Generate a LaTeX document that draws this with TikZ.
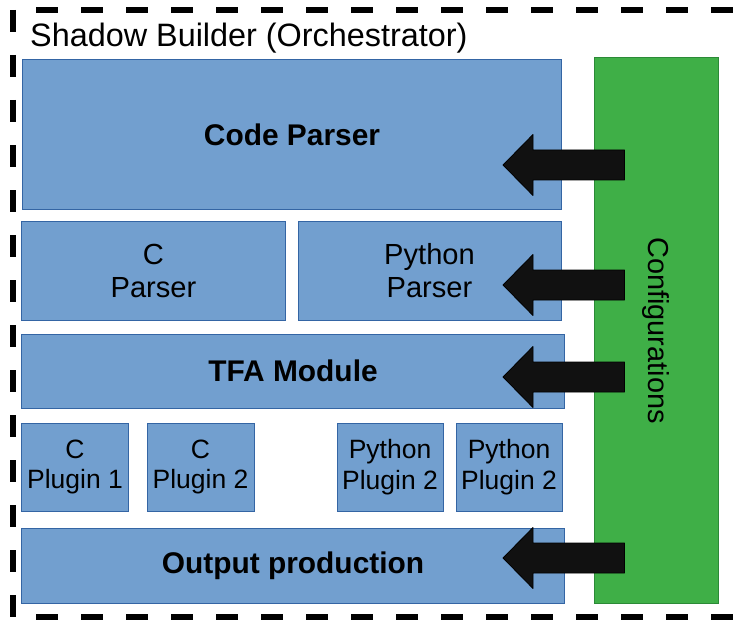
\documentclass[tikz,border=0pt]{standalone}
\usepackage{fontspec}
\setmainfont{Liberation Sans}
\usetikzlibrary{calc}

\definecolor{blockfill}{HTML}{729FCF}
\definecolor{blockborder}{HTML}{3465A4}
\definecolor{cfgfill}{HTML}{3FAF47}
\definecolor{cfgborder}{HTML}{2B8A37}
\definecolor{arrowfill}{HTML}{111111}

\begin{document}
\begin{tikzpicture}[
			x=1bp, y=-1bp,
			block/.style={
				draw=blockborder,
				fill=blockfill,
				line width=1bp,
				inner sep=0pt,
				align=center,
				font=\fontsize{29.2}{33}\selectfont,
			},
			bigblock/.style={block,
				font=\fontsize{30}{33}\selectfont\bfseries,
			},
			plugin/.style={block,
				minimum width=106bp,
				minimum height=88bp,
				font=\fontsize{26.6}{31}\selectfont,
			},
			cfgbox/.style={
				draw=cfgborder,
				fill=cfgfill,
				line width=1bp,
				inner sep=0pt,
				rotate=-90,
				font=\fontsize{29}{30}\selectfont,
			},
			cfgarrow/.style={
				fill=arrowfill,
				draw=black,
				line width=0.8bp,
				line join=round,
			},
			frame/.style={
				line width=6bp,
				dash pattern=on 22bp off 23bp,
			},
			]
			\useasboundingbox (0,0) rectangle (738,622);
			%% dashed frame, cut off on the right
			\draw[frame, dash phase=22bp] (13,10) -- (760,10);
			\draw[frame] (13,10) -- (13,617);
			\draw[frame, dash phase=22bp] (13,617) -- (760,617);
			\node[anchor=base west, inner sep=0pt, font=\fontsize{32.5}{35}\selectfont] (title) at (30,47) {Shadow Builder (Orchestrator)};
			%% Blocks
			\node[bigblock, minimum width=538bp, minimum height=149bp] (codeparser) at (292,134.5) {Code Parser};
			\node[block, minimum width=263bp, minimum height=98bp] (cparser) at (153.5,271) {C\\Parser};
			\node[block, minimum width=263bp, minimum height=98bp] (pyparser) at (429.5,271) {Python\\Parser};
			\node[bigblock, minimum width=542bp, minimum height=74bp] (tfa) at (293,371) {TFA Module};
			\node[plugin] (cplugina) at (75,467) {C\\Plugin 1};
			\node[plugin, minimum width=107bp] (cpluginb) at (200.5,467) {C\\Plugin 2};
			\node[plugin] (pyplugina) at (390,467) {Python\\Plugin 2};
			\node[plugin] (pypluginb) at (509,467) {Python\\Plugin 2};
			\node[bigblock, minimum width=542bp, minimum height=75bp] (output) at (293,565.5) {Output production};
			\node[cfgbox, minimum width=545bp, minimum height=124bp] (config) at (656,330.5) {Configurations};
			%% Arrows from the configurations
			\foreach \y in {165,285,377,558}
				\filldraw[cfgarrow] ($(config.south |- 0,\y)+(31,-15)$) -- (533,\y-15) -- (533,\y-30.5) -- (503,\y) -- (533,\y+30.5) -- (533,\y+15) -- ($(config.south |- 0,\y)+(31,15)$) -- cycle;
		\end{tikzpicture}
\end{document}
